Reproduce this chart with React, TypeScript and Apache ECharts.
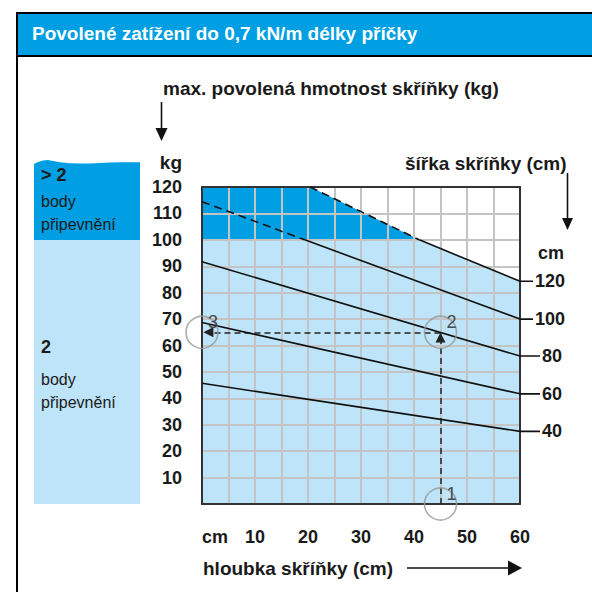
import React, { useEffect, useRef } from "react";
import * as echarts from "echarts";

// ---- data ----
const xTicks = [0, 10, 20, 30, 40, 50, 60]; // depth (cm)
const yTicks = [10, 20, 30, 40, 50, 60, 70, 80, 90, 100, 110, 120]; // kg
const widthLabels = ["40", "60", "80", "100", "120"]; // cabinet width (cm)

// solid parts of the curves: [depth cm, kg]
const curve40 = [[0, 45.7], [60, 27.5]];
const curve60 = [[0, 68.7], [60, 41.7]];
const curve80 = [[0, 91.7], [60, 56]];
const curve100Dashed = [[0, 114.4], [19.4, 100]];
const curve100 = [[19.4, 100], [60, 70]];
const curve120Dashed = [[20.4, 120], [41, 100]];
const curve120 = [[41, 100], [60, 84.3]];

// example reading: depth 45 cm -> 65 kg
const exampleDepth = 45;
const exampleKg = 65;
const markerNames = ["1", "2", "3"];

const FONT = "'Liberation Sans', Arial, Helvetica, sans-serif";
const DARK = "#009fe3";
const LIGHT = "#bde4f8";
const INK = "#1a1a1a";

export default function App() {
  const ref = useRef<HTMLDivElement>(null);
  useEffect(() => {
    if (!ref.current) return;
    const chart = echarts.init(ref.current, null, { renderer: "svg" });

    const curves: [string, number[][], boolean][] = [
      ["40", curve40, false],
      ["60", curve60, false],
      ["80", curve80, false],
      ["100d", curve100Dashed, true],
      ["100", curve100, false],
      ["120d", curve120Dashed, true],
      ["120", curve120, false],
    ];
    const endOf: Record<string, number> = {
      "40": curve40[curve40.length - 1][1],
      "60": curve60[curve60.length - 1][1],
      "80": curve80[curve80.length - 1][1],
      "100": curve100[curve100.length - 1][1],
      "120": curve120[curve120.length - 1][1],
    };
    const limitBoundary = [[0, 120], ...curve120Dashed, ...curve120.slice(1)];
    const darkBoundary = [[0, 120], ...curve120Dashed];

    const series: any[] = [
      {
        type: "line",
        xAxisIndex: 0,
        yAxisIndex: 0,
        data: limitBoundary,
        symbol: "none",
        lineStyle: { width: 0 },
        areaStyle: { color: LIGHT, opacity: 1, origin: "start" },
        z: 1,
        silent: true,
      },
      {
        type: "line",
        xAxisIndex: 0,
        yAxisIndex: 0,
        data: darkBoundary,
        symbol: "none",
        lineStyle: { width: 0 },
        areaStyle: { color: DARK, opacity: 1, origin: 100 },
        z: 1,
        silent: true,
      },
      ...curves.map(([name, data, dashed]) => ({
        type: "line",
        name,
        xAxisIndex: 0,
        yAxisIndex: 0,
        data,
        symbol: "none",
        lineStyle: { color: "#111", width: 1.6, type: dashed ? [8, 5] : "solid" },
        z: 5,
        silent: true,
      })),
      ...widthLabels.map((w) => ({
        type: "line",
        name: w,
        xAxisIndex: 2,
        yAxisIndex: 2,
        data: [[0, endOf[w]], [w.length === 3 ? 13 : 20, endOf[w]]],
        symbol: "none",
        lineStyle: { color: "#111", width: 1.6 },
        endLabel: {
          show: true,
          formatter: w,
          distance: 2,
          fontFamily: FONT,
          fontSize: 18,
          fontWeight: "bold",
          color: INK,
        },
        z: 5,
        silent: true,
      })),
      {
        type: "scatter",
        xAxisIndex: 0,
        yAxisIndex: 0,
        clip: false,
        symbol: "circle",
        symbolSize: 32,
        itemStyle: { color: "rgba(0,0,0,0)", borderColor: "#999", borderWidth: 1.6 },
        data: [
          [exampleDepth, 0],
          [exampleDepth, exampleKg],
          [0, exampleKg],
        ],
        label: {
          show: true,
          position: "inside",
          offset: [11, -10],
          formatter: (p: any) => markerNames[p.dataIndex],
          fontFamily: FONT,
          fontSize: 18,
          color: "#222",
        },
        markLine: {
          silent: true,
          animation: false,
          symbol: ["none", "triangle"],
          symbolSize: 10,
          label: { show: false },
          lineStyle: { color: "#222", width: 1.5, type: [6, 4] },
          data: [
            [{ coord: [exampleDepth, 0] }, { coord: [exampleDepth, exampleKg - 2] }],
            [{ coord: [exampleDepth, exampleKg] }, { coord: [1.2, exampleKg] }],
          ],
        },
        z: 6,
        silent: true,
      },
    ];

    const texts: any[] = [
      { x: 32, y: 33, text: "Povolené zatížení do 0,7 kN/m délky příčky", fill: "#fff", size: 19, bold: true },
      { x: 163, y: 88, text: "max. povolená hmotnost skříňky (kg)", size: 19, bold: true },
      { x: 182, y: 162, text: "kg", size: 19, bold: true, align: "right" },
      { x: 405, y: 163, text: "šířka skříňky (cm)", size: 19, bold: true },
      { x: 564, y: 253, text: "cm", size: 18, bold: true, align: "right" },
      { x: 203, y: 568, text: "hloubka skříňky (cm)", size: 19, bold: true },
      { x: 41, y: 175, text: "> 2", size: 18, bold: true },
      { x: 41, y: 201, text: "body", size: 16 },
      { x: 41, y: 224, text: "připevnění", size: 16 },
      { x: 41, y: 347, text: "2", size: 18, bold: true },
      { x: 41, y: 379, text: "body", size: 16 },
      { x: 41, y: 402, text: "připevnění", size: 16 },
    ];

    const wavy = [
      [34, 164], [38, 162], [43, 160.5], [48, 160], [53, 161], [60, 162.3],
      [70, 163.2], [80, 163.6], [90, 163.4], [100, 163], [110, 162.6], [120, 162.3],
      [130, 162.2], [140, 162.2], [140, 240], [34, 240],
    ];

    chart.setOption({
      animation: false,
      backgroundColor: "#fff",
      grid: [
        { left: 202, top: 187, width: 318, height: 317 },
        { left: 520, top: 187, width: 20, height: 317 },
      ],
      xAxis: [
        {
          type: "value",
          gridIndex: 0,
          min: 0,
          max: 60,
          interval: 5,
          z: 3,
          axisLine: { show: true, onZero: false, lineStyle: { color: "#333", width: 2 } },
          axisTick: { show: false },
          splitLine: { show: true, lineStyle: { color: "#c4c4c4", width: 2 } },
          axisLabel: {
            margin: 24,
            fontFamily: FONT,
            fontSize: 18,
            fontWeight: "bold",
            color: INK,
            formatter: (v: number) =>
              v === 0 ? "{c|cm}" : xTicks.includes(v) ? String(v) : "",
            rich: {
              c: { fontFamily: FONT, fontSize: 18, fontWeight: "bold", color: INK, padding: [0, 0, 0, 26] },
            },
          },
        },
        {
          type: "value",
          gridIndex: 0,
          position: "top",
          min: 0,
          max: 60,
          z: 4,
          axisLine: { show: true, onZero: false, lineStyle: { color: "#333", width: 2 } },
          axisTick: { show: false },
          axisLabel: { show: false },
          splitLine: { show: false },
        },
        {
          type: "value",
          gridIndex: 1,
          min: 0,
          max: 20,
          show: false,
        },
      ],
      yAxis: [
        {
          type: "value",
          gridIndex: 0,
          min: 0,
          max: 120,
          interval: 10,
          z: 3,
          axisLine: { show: true, onZero: false, lineStyle: { color: "#333", width: 2 } },
          axisTick: { show: false },
          splitLine: { show: true, lineStyle: { color: "#c4c4c4", width: 2 } },
          axisLabel: {
            margin: 20,
            fontFamily: FONT,
            fontSize: 18,
            fontWeight: "bold",
            color: INK,
            formatter: (v: number) => (yTicks.includes(v) ? String(v) : ""),
          },
        },
        {
          type: "value",
          gridIndex: 0,
          position: "right",
          min: 0,
          max: 120,
          z: 4,
          axisLine: { show: true, onZero: false, lineStyle: { color: "#333", width: 2 } },
          axisTick: { show: false },
          axisLabel: { show: false },
          splitLine: { show: false },
        },
        {
          type: "value",
          gridIndex: 1,
          min: 0,
          max: 120,
          show: false,
        },
      ],
      series,
      graphic: [
        { type: "rect", shape: { x: 17, y: 13, width: 580, height: 43 }, style: { fill: DARK }, z: 0 },
        { type: "rect", shape: { x: 17, y: 13, width: 600, height: 600 }, style: { fill: "none", stroke: "#000", lineWidth: 2 }, z: 1 },
        { type: "line", shape: { x1: 17, y1: 56, x2: 592, y2: 56 }, style: { stroke: "#000", lineWidth: 2 }, z: 1 },
        { type: "rect", shape: { x: 34, y: 240, width: 106, height: 264 }, style: { fill: LIGHT }, z: 0 },
        { type: "polygon", shape: { points: wavy }, style: { fill: DARK }, z: 0 },
        // arrows
        { type: "line", shape: { x1: 161.5, y1: 102, x2: 161.5, y2: 130 }, style: { stroke: "#111", lineWidth: 1.6 }, z: 2 },
        { type: "polygon", shape: { points: [[155.5, 128], [167.5, 128], [161.5, 141]] }, style: { fill: "#111" }, z: 2 },
        { type: "line", shape: { x1: 567.5, y1: 173, x2: 567.5, y2: 220 }, style: { stroke: "#111", lineWidth: 1.6 }, z: 2 },
        { type: "polygon", shape: { points: [[562, 218], [573, 218], [567.5, 230]] }, style: { fill: "#111" }, z: 2 },
        { type: "line", shape: { x1: 407, y1: 568, x2: 510, y2: 568 }, style: { stroke: "#111", lineWidth: 1.6 }, z: 2 },
        { type: "polygon", shape: { points: [[508, 560.5], [508, 575.5], [522, 568]] }, style: { fill: "#111" }, z: 2 },
        ...texts.map((t) => ({
          type: "text",
          x: t.x,
          y: t.y,
          z: 3,
          style: {
            text: t.text,
            fill: t.fill || INK,
            font: `${t.bold ? "bold " : ""}${t.size}px ${FONT}`,
            textAlign: t.align || "left",
            textVerticalAlign: "middle",
          },
        })),
      ],
    });
    return () => chart.dispose();
  }, []);
  return <div ref={ref} style={{ position: "fixed", left: 0, top: 0, width: 592, height: 592 }} />;
}
